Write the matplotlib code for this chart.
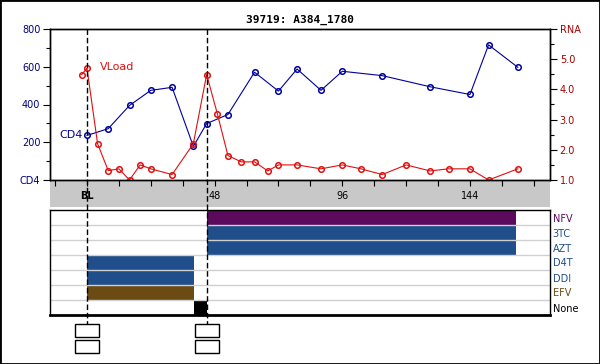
import matplotlib
matplotlib.use("Agg")
import matplotlib.pyplot as plt
from matplotlib.patches import Rectangle

# lab values
cd4_weeks = [0, 8, 16, 24, 32, 40, 45, 53, 63, 72, 79, 88, 96, 111, 129, 144, 151, 162]
cd4_vals = [236, 272, 395, 475, 491, 178, 299, 347, 571, 471, 588, 475, 576, 553, 494, 453, 716, 597]
rna_weeks = [-2, 0, 4, 8, 12, 16, 20, 24, 32, 40, 45, 49, 53, 58, 63, 68, 72, 79,
             88, 96, 103, 111, 120, 129, 136, 144, 151, 162]
rna_vals = [4.49, 4.70, 2.2, 1.31, 1.37, 1.0, 1.5, 1.37, 1.18, 2.2, 4.49, 3.2, 1.81, 1.6,
            1.6, 1.3, 1.5, 1.5, 1.37, 1.5, 1.37, 1.18, 1.5, 1.3, 1.37, 1.37, 1.0, 1.37]

# treatment history
drugs = ["NFV", "3TC", "AZT", "D4T", "DDI", "EFV", "None"]
drug_colors = ["#5c0a5e", "#1f4e8a", "#1f4e8a", "#1f4e8a", "#1f4e8a", "#6b4a14", "#000000"]
drug_starts = [45, 45, 45, 0, 0, 0, 40.2]
drug_ends = [161.3, 161.3, 161.3, 40.2, 40.2, 40.2, 45]

events = [0, 45]  # regimen start weeks (dashed lines)
week_ticks = list(range(-12, 169, 12))
week_labels = {0: "BL", 48: "48", 96: "96", 144: "144"}

title = "39719: A384_1780"
xlim = (-13.9, 174.1)

W, H = 600, 364
fig = plt.figure(figsize=(6, 3.64), dpi=100)


def box(x0, y0, x1, y1):
    # pixel box (top-left origin) -> figure fraction rect
    return [x0 / W, (H - y1) / H, (x1 - x0) / W, (y1 - y0) / H]


blue = "#00009c"
red = "#e01010"
dred = "#a00000"

# gray week band
ax_band = fig.add_axes(box(50, 180, 550, 207))
ax_band.set_facecolor("#c8c8c8")
ax_band.set_xlim(xlim)
ax_band.set_xticks([])
ax_band.set_yticks([])
for s in ax_band.spines.values():
    s.set_visible(False)

# CD4 / RNA panel
ax = fig.add_axes(box(50, 29, 550, 180))
ax.set_xlim(xlim)
ax.set_ylim(0, 800)
ax.plot(cd4_weeks, cd4_vals, color=blue, lw=0.8, marker="o", ms=4,
        mfc="none", mec=blue, mew=1.1)
ax.set_yticks([0, 200, 400, 600, 800])
ax.set_yticklabels(["CD4", "200", "400", "600", "800"])
ax.set_yticks(range(100, 800, 200), minor=True)
ax.tick_params(axis="y", colors="black", labelcolor="#000080", labelsize=7,
               length=5, width=0.8, pad=2)
ax.tick_params(axis="y", which="minor", length=3, width=0.8)
ax.set_xticks(week_ticks)
ax.set_xticklabels([week_labels.get(t, "") for t in week_ticks])
ax.tick_params(axis="x", length=4, width=0.8, labelsize=7, pad=4)
for lab in ax.get_xticklabels():
    if lab.get_text() == "BL":
        lab.set_fontweight("bold")
ax.text(cd4_weeks[0] - 1.5, cd4_vals[0], "CD4", color=blue, fontsize=8,
        ha="right", va="center")

ax2 = ax.twinx()
ax2.set_xlim(xlim)
ax2.set_ylim(1, 6)
ax2.plot(rna_weeks, rna_vals, color=red, lw=0.8, marker="o", ms=4,
         mfc="none", mec=red, mew=1.1)
ax2.set_yticks([1, 2, 3, 4, 5, 6])
ax2.set_yticklabels(["1.0", "2.0", "3.0", "4.0", "5.0", "RNA"])
ax2.set_yticks([1.5, 2.5, 3.5, 4.5, 5.5], minor=True)
ax2.tick_params(axis="y", labelcolor=dred, labelsize=7, length=5, width=0.8, pad=2)
ax2.tick_params(axis="y", which="minor", length=3, width=0.8)
ax2.text(5, 4.74, "VLoad", color=red, fontsize=8, ha="left", va="center")
for a in (ax, ax2):
    for s in a.spines.values():
        s.set_linewidth(1)

# drug panel
axd = fig.add_axes(box(50, 210, 550, 315))
axd.set_xlim(xlim)
axd.set_ylim(len(drugs), 0)
for i, d in enumerate(drugs):
    axd.barh(i + 0.5, drug_ends[i] - drug_starts[i], left=drug_starts[i],
             height=1.0, color=drug_colors[i], zorder=1)
for i in range(1, len(drugs)):
    axd.axhline(i, color="#d0d0d0", lw=1, zorder=2)
axd.set_xticks([])
axd.set_yticks([i + 0.5 for i in range(len(drugs))])
axd.set_yticklabels(drugs)
axd.yaxis.tick_right()
axd.tick_params(axis="y", length=0, pad=2, labelsize=7)
for lab, c in zip(axd.get_yticklabels(), drug_colors):
    lab.set_color(c)
for s in axd.spines.values():
    s.set_linewidth(1)
axd.spines["bottom"].set_linewidth(2)

# dashed event lines and boxes
axo = fig.add_axes(box(50, 29, 550, 356))
axo.set_xlim(xlim)
axo.set_ylim(356, 29)
axo.patch.set_alpha(0)
axo.axis("off")
for e in events:
    axo.plot([e, e], [29, 324], color="black", lw=1, linestyle=(0, (4, 2)))
    for y0 in (324, 340):
        axo.add_patch(Rectangle((e - 4.5, y0), 9, 13, fill=False,
                                edgecolor="black", lw=1))

fig.text(0.5, 1 - 20 / H, title, ha="center", va="center", fontsize=8,
         fontweight="bold", family="DejaVu Sans Mono")
fig.patches.append(Rectangle((0, 0), 1, 1, transform=fig.transFigure,
                             fill=False, edgecolor="black", lw=2))

fig.savefig("out.png", dpi=100)
